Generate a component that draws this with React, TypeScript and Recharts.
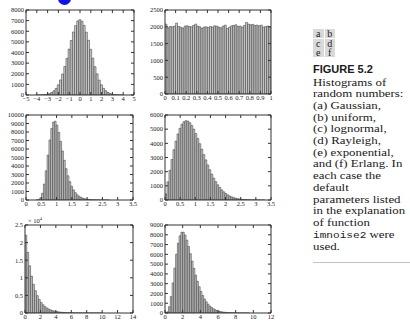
import React from 'react';
import { BarChart, Bar, XAxis, YAxis } from 'recharts';

// (a) Gaussian
const gaussX = [-4.0, -3.8, -3.6, -3.4, -3.2, -3.0, -2.8, -2.6, -2.4, -2.2, -2.0, -1.8, -1.6, -1.4, -1.2, -1.0, -0.8, -0.6, -0.4, -0.2, 0, 0.2, 0.4, 0.6, 0.8, 1.0, 1.2, 1.4, 1.6, 1.8, 2.0, 2.2, 2.4, 2.6, 2.8, 3.0, 3.2, 3.4, 3.6, 3.8, 4.0];
const gaussN = [2, 5, 12, 22, 44, 80, 138, 243, 398, 625, 955, 1420, 1975, 2680, 3450, 4320, 5130, 5930, 6530, 6970, 7090, 6950, 6550, 5910, 5150, 4300, 3470, 2660, 1990, 1400, 965, 630, 402, 238, 142, 78, 41, 23, 10, 5, 2];

// (b) uniform
const uniX = [0.01, 0.03, 0.05, 0.07, 0.09, 0.11, 0.13, 0.15, 0.17, 0.19, 0.21, 0.23, 0.25, 0.27, 0.29, 0.31, 0.33, 0.35, 0.37, 0.39, 0.41, 0.43, 0.45, 0.47, 0.49, 0.51, 0.53, 0.55, 0.57, 0.59, 0.61, 0.63, 0.65, 0.67, 0.69, 0.71, 0.73, 0.75, 0.77, 0.79, 0.81, 0.83, 0.85, 0.87, 0.89, 0.91, 0.93, 0.95, 0.97, 0.99];
const uniN = [2080, 1970, 2010, 2000, 2020, 2110, 2010, 1990, 1960, 2020, 2030, 2010, 2000, 2040, 2080, 2020, 2000, 1960, 1990, 2000, 1980, 2010, 1990, 2030, 2020, 1990, 1970, 2020, 2050, 1950, 1990, 2030, 2040, 2060, 2010, 2020, 1990, 2040, 2130, 2080, 2060, 2070, 2040, 2050, 2030, 2050, 1990, 2010, 2020, 2000];

// (c) lognormal
const lognX = [0.36, 0.42, 0.48, 0.54, 0.60, 0.66, 0.72, 0.78, 0.84, 0.90, 0.96, 1.02, 1.08, 1.14, 1.20, 1.26, 1.32, 1.38, 1.44, 1.50, 1.56, 1.62, 1.68, 1.74, 1.80, 1.86, 1.92, 1.98, 2.04, 2.10, 2.16, 2.22, 2.28, 2.34, 2.40, 2.46, 2.52, 2.58, 2.64, 2.70];
const lognN = [6, 52, 252, 800, 1864, 3435, 5282, 7054, 8416, 9167, 9268, 8812, 7962, 6893, 5759, 4668, 3687, 2849, 2161, 1613, 1188, 865, 623, 445, 316, 222, 156, 109, 76, 53, 36, 25, 17, 12, 8, 5, 4, 2, 2, 1];

// (d) Rayleigh
const rayX = [0.033, 0.099, 0.165, 0.231, 0.297, 0.363, 0.429, 0.495, 0.561, 0.627, 0.693, 0.759, 0.825, 0.891, 0.957, 1.023, 1.089, 1.155, 1.221, 1.287, 1.353, 1.419, 1.485, 1.551, 1.617, 1.683, 1.749, 1.815, 1.881, 1.947, 2.013, 2.079, 2.145, 2.211, 2.277, 2.343, 2.409, 2.475, 2.541, 2.607, 2.673, 2.739, 2.805, 2.871, 2.937, 3.003, 3.069, 3.135, 3.201, 3.267];
const rayN = [430, 1280, 2096, 2859, 3550, 4154, 4660, 5058, 5347, 5526, 5598, 5570, 5453, 5259, 5000, 4691, 4344, 3972, 3590, 3206, 2832, 2473, 2137, 1827, 1545, 1294, 1071, 879, 714, 574, 457, 360, 281, 217, 166, 126, 95, 71, 52, 38, 28, 20, 14, 10, 7, 5, 3, 2, 1, 1];

// (e) exponential
const expX = [0.125, 0.375, 0.625, 0.875, 1.125, 1.375, 1.625, 1.875, 2.125, 2.375, 2.625, 2.875, 3.125, 3.375, 3.625, 3.875, 4.125, 4.375, 4.625, 4.875, 5.125, 5.375, 5.625, 5.875, 6.125, 6.375, 6.625, 6.875, 7.125, 7.375, 7.625, 7.875, 8.125, 8.375, 8.625, 8.875, 9.125, 9.375, 9.625, 9.875];
const expN = [22120, 17227, 13416, 10449, 8138, 6337, 4936, 3844, 2994, 2331, 1816, 1414, 1101, 858, 668, 520, 405, 316, 246, 191, 149, 116, 90, 70, 55, 43, 33, 26, 20, 16, 12, 9, 7, 6, 4, 3, 3, 2, 2, 1];

// (f) Erlang
const erlX = [0.1, 0.3, 0.5, 0.7, 0.9, 1.1, 1.3, 1.5, 1.7, 1.9, 2.1, 2.3, 2.5, 2.7, 2.9, 3.1, 3.3, 3.5, 3.7, 3.9, 4.1, 4.3, 4.5, 4.7, 4.9, 5.1, 5.3, 5.5, 5.7, 5.9, 6.1, 6.3, 6.5, 6.7, 6.9, 7.1, 7.3, 7.5, 7.7, 7.9, 8.1, 8.3, 8.5, 8.7, 8.9, 9.1, 9.3, 9.5];
const erlN = [2, 126, 651, 1677, 3071, 4594, 6007, 7138, 7893, 8256, 8261, 7966, 7454, 6799, 6066, 5310, 4568, 3876, 3243, 2686, 2201, 1784, 1433, 1144, 906, 713, 556, 433, 335, 257, 196, 150, 114, 86, 65, 49, 37, 28, 21, 15, 11, 8, 6, 5, 3, 2, 2, 1];

const ticksA = [-5, -4, -3, -2, -1, 0, 1, 2, 3, 4, 5];
const ticksB = [0, 0.1, 0.2, 0.3, 0.4, 0.5, 0.6, 0.7, 0.8, 0.9, 1];
const ticksCD = [0, 0.5, 1, 1.5, 2, 2.5, 3, 3.5];
const ticksE = [0, 2, 4, 6, 8, 10, 12, 14];
const ticksF = [0, 2, 4, 6, 8, 10, 12];

const yA = [0, 1000, 2000, 3000, 4000, 5000, 6000, 7000, 8000];
const yB = [0, 500, 1000, 1500, 2000, 2500];
const yC = [0, 1000, 2000, 3000, 4000, 5000, 6000, 7000, 8000, 9000, 10000];
const yD = [0, 1000, 2000, 3000, 4000, 5000, 6000];
const yE = [0, 5000, 10000, 15000, 20000, 25000];
const yF = [0, 1000, 2000, 3000, 4000, 5000, 6000, 7000, 8000, 9000];

const captionLines = [
  'Histograms of',
  'random numbers:',
  '(a) Gaussian,',
  '(b) uniform,',
  '(c) lognormal,',
  '(d) Rayleigh,',
  '(e) exponential,',
  'and (f) Erlang. In',
  'each case the',
  'default',
  'parameters listed',
  'in the explanation',
  'of function',
];

const rows = (xs: number[], ns: number[]) => xs.map((x, i) => ({ x, n: ns[i] }));

const serif = "'Liberation Serif', 'DejaVu Serif', serif";
const tickFont = { fontSize: 6.5, fontFamily: serif, fill: '#222' };
const noLabel = () => <g />;
const minus = (v: number) => (v < 0 ? '\u2212' + Math.abs(v) : String(v));

type PanelProps = {
  data: { x: number; n: number }[];
  left: number;
  top: number;
  w: number;
  h: number;
  xDomain: [number, number];
  xTicks: number[];
  yDomain: [number, number];
  yTicks: number[];
  binW: number;
  xFmt?: (v: number) => string;
  yFmt?: (v: number) => string;
};

function Panel(p: PanelProps) {
  const ml = 26;
  const mt = 4;
  const mr = 8;
  const mb = 14;
  const barSize = (p.w * p.binW) / (p.xDomain[1] - p.xDomain[0]);
  return (
    <div style={{ position: 'absolute', left: p.left - ml, top: p.top - mt }}>
      <BarChart
        width={p.w + ml + mr}
        height={p.h + mt + mb}
        data={p.data}
        margin={{ top: mt, right: mr, left: 0, bottom: 0 }}
        barCategoryGap={0}
        barGap={0}
      >
        <XAxis xAxisId="b" dataKey="x" type="number" domain={p.xDomain} ticks={p.xTicks} interval={0}
          allowDataOverflow height={mb} tickSize={-3} tickMargin={4} stroke="#333" tick={tickFont}
          tickFormatter={p.xFmt} />
        <XAxis xAxisId="t" orientation="top" mirror dataKey="x" type="number" domain={p.xDomain}
          ticks={p.xTicks} interval={0} allowDataOverflow tickSize={3} stroke="#333" tick={noLabel} />
        <YAxis yAxisId="l" type="number" domain={p.yDomain} ticks={p.yTicks} interval={0}
          allowDataOverflow width={ml} tickSize={-3} tickMargin={5} stroke="#333" tick={tickFont}
          tickFormatter={p.yFmt} />
        <YAxis yAxisId="r" orientation="right" mirror type="number" domain={p.yDomain} ticks={p.yTicks}
          interval={0} allowDataOverflow tickSize={3} stroke="#333" tick={noLabel} />
        <Bar xAxisId="b" yAxisId="l" dataKey="n" fill="#cdcdcd" stroke="#2a2a2a" strokeWidth={0.5}
          barSize={barSize} isAnimationActive={false} />
      </BarChart>
    </div>
  );
}

export default function App() {
  return (
    <div style={{ position: 'absolute', left: 0, top: 0, width: 410, height: 324, background: '#fff', overflow: 'hidden', fontFamily: serif, color: '#1a1a1a' }}>
      <div style={{ position: 'absolute', left: 58, top: -8, width: 13, height: 13, borderRadius: '50%', background: '#1212e6' }} />

      <Panel data={rows(gaussX, gaussN)} left={26} top={10} w={108} h={85} xDomain={[-5, 5]} xTicks={ticksA}
        yDomain={[0, 8000]} yTicks={yA} binW={0.2} xFmt={minus} />
      <Panel data={rows(uniX, uniN)} left={165} top={10} w={106} h={84} xDomain={[0, 1]} xTicks={ticksB}
        yDomain={[0, 2500]} yTicks={yB} binW={0.02} />
      <Panel data={rows(lognX, lognN)} left={26} top={115} w={107} h={85} xDomain={[0, 3.5]} xTicks={ticksCD}
        yDomain={[0, 10000]} yTicks={yC} binW={0.06} />
      <Panel data={rows(rayX, rayN)} left={165} top={115} w={106} h={85} xDomain={[0, 3.5]} xTicks={ticksCD}
        yDomain={[0, 6000]} yTicks={yD} binW={0.066} />
      <Panel data={rows(expX, expN)} left={25} top={225} w={108} h={88} xDomain={[0, 14]} xTicks={ticksE}
        yDomain={[0, 25000]} yTicks={yE} binW={0.25} yFmt={(v) => String(v / 10000)} />
      <Panel data={rows(erlX, erlN)} left={165} top={225} w={106} h={88} xDomain={[0, 12]} xTicks={ticksF}
        yDomain={[0, 9000]} yTicks={yF} binW={0.2} />

      <div style={{ position: 'absolute', left: 28, top: 217, fontSize: 6.5, lineHeight: '7px', whiteSpace: 'nowrap' }}>
        {'\u00d7 10'}<sup style={{ fontSize: 4.5, verticalAlign: 'top', lineHeight: '4px' }}>4</sup>
      </div>

      <div style={{ position: 'absolute', left: 313, top: 29 }}>
        {[['a', 'b'], ['c', 'd'], ['e', 'f']].map((r) => (
          <div key={r[0]} style={{ display: 'flex', gap: 1, marginBottom: 0.5 }}>
            {r.map((c) => (
              <div key={c} style={{ width: 10.5, height: 9, background: '#d9d9d9', fontSize: 10, lineHeight: '9px', textAlign: 'center' }}>{c}</div>
            ))}
          </div>
        ))}
      </div>

      <div style={{ position: 'absolute', left: 313, top: 63, fontFamily: "'Liberation Sans Narrow', 'Liberation Sans', sans-serif", fontWeight: 700, fontSize: 11, lineHeight: '12px', whiteSpace: 'nowrap' }}>
        FIGURE 5.2
      </div>
      <div style={{ position: 'absolute', left: 313, top: 76.5, fontSize: 11, lineHeight: '11.7px', whiteSpace: 'nowrap', transform: 'scaleX(1.17)', transformOrigin: 'left top' }}>
        {captionLines.map((l) => (
          <div key={l}>{l}</div>
        ))}
        <div>
          <span style={{ fontFamily: "'Liberation Mono', 'DejaVu Sans Mono', monospace", fontSize: 9.5 }}>imnoise2</span> were
        </div>
        <div>used.</div>
      </div>
      <div style={{ position: 'absolute', left: 313, top: 262, width: 97, height: 1, background: '#c4c4c4' }} />
    </div>
  );
}
